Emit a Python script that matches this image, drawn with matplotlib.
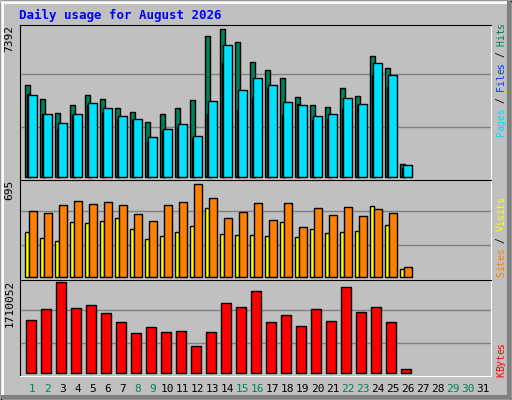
import numpy as np
import matplotlib.pyplot as plt
from matplotlib.patches import Rectangle

# valores diarios (agosto 2026)
days = list(range(1, 32))
hits = [274, 232, 190, 214, 244, 232, 205, 193, 163, 187, 205, 229, 421, 442, 403, 343,
        319, 295, 238, 214, 208, 265, 241, 361, 325, 37]
files = [244, 187, 160, 187, 220, 205, 181, 172, 118, 142, 157, 121, 226, 394, 259, 295,
         274, 223, 214, 181, 187, 235, 217, 340, 304, 34]
pages = [247, 187, 142, 184, 214, 190, 172, 169, 103, 136, 148, 115, 187, 340, 199, 235,
         265, 184, 217, 169, 172, 202, 214, 304, 268, 25]
sites = [196, 190, 214, 226, 217, 223, 214, 187, 166, 214, 223, 278, 235, 175, 193, 220,
         169, 220, 148, 205, 184, 208, 181, 202, 190, 28]
visits = [133, 115, 106, 163, 160, 166, 175, 142, 112, 121, 133, 151, 205, 127, 124, 124,
          121, 163, 118, 142, 130, 133, 136, 211, 154, 22]
kbytes = [160, 193, 274, 196, 205, 181, 154, 121, 139, 124, 127, 82, 124, 211, 199, 247,
          154, 175, 142, 193, 157, 259, 184, 199, 154, 13]
# escalar a las unidades reales
hits = [v * 7392 / 442 for v in hits]
files = [v * 7392 / 442 for v in files]
pages = [v * 7392 / 442 for v in pages]
sites = [v * 695 / 278 for v in sites]
visits = [v * 695 / 278 for v in visits]
kbytes = [v * 1710052 / 274 for v in kbytes]
weekend = [1, 2, 8, 9, 15, 16, 22, 23, 29, 30]

W, H = 512, 400
fig = plt.figure(figsize=(W / 100, H / 100), dpi=100, facecolor='#c0c0c0')
mono = 'DejaVu Sans Mono'

def px_axes(x0, y0, x1, y1):
    return fig.add_axes([x0 / W, 1 - y1 / H, (x1 - x0) / W, (y1 - y0) / H])

# marco exterior
bg = fig.add_axes([0, 0, 1, 1])
bg.set_xlim(0, W); bg.set_ylim(H, 0); bg.axis('off')
bg.add_patch(Rectangle((0.5, 0.5), W - 1, H - 1, fill=False, ec='black', lw=1))
bg.plot([2, W - 3], [2, 2], color='white', lw=2)
bg.plot([2, 2], [2, H - 3], color='white', lw=2)
bg.plot([3, W - 3], [H - 3, H - 3], color='#808080', lw=3)
bg.plot([W - 3, W - 3], [3, H - 3], color='#808080', lw=3)

xl = (1 - 11 / 15, 1 - 11 / 15 + 471 / 15)

def setup(ax, ymax, frac_base, label):
    ax.set_facecolor('#c0c0c0')
    ax.set_xlim(*xl)
    ax.set_ylim(-ymax * frac_base, ymax * 1.0)
    for g in (0.33, 0.68):
        ax.axhline(ymax * g, color='#808080', lw=1, zorder=0)
    ax.set_xticks([]); ax.set_yticks([])
    for s in ax.spines.values():
        s.set_color('black')
    ax.spines['bottom'].set_color('white')
    ax.spines['right'].set_color('white')
    ax.text(-0.012, 1.0, label, transform=ax.transAxes, rotation=90, ha='right', va='top',
            fontsize=8, family=mono)

n = len(hits)
x = np.arange(1, n + 1)
kw = dict(edgecolor='black', linewidth=1, align='edge')

# panel superior
ax1 = px_axes(20, 25, 491, 180)
m1 = 7392 * 455 / 442
setup(ax1, m1, 10 / 455, '7392')
ax1.bar(x - 0.4, hits, width=0.33, color='#00805c', **kw)
ax1.bar(x - 0.27, pages, width=0.15, color='#0040ff', **kw)
ax1.bar(x - 0.18, files, width=0.56, color='#00e0ff', **kw)

# panel medio
ax2 = px_axes(20, 180, 491, 280)
m2 = 695 * 290 / 278
setup(ax2, m2, 10 / 290, '695')
ax2.bar(x - 0.38, visits, width=0.27, color='#ffff00', **kw)
ax2.bar(x - 0.13, sites, width=0.5, color='#ff8000', **kw)

# panel inferior
ax3 = px_axes(20, 280, 491, 376)
m3 = 1710052 * 280 / 274
setup(ax3, m3, 8 / 280, '1710052')
ax3.bar(x - 0.35, kbytes, width=0.68, color='#ff0000', **kw)

# etiquetas de dias
for d in days:
    xp = 20 + (d - xl[0]) * 15 + 1.5
    bg.text(xp, 389, str(d), ha='center', va='center', fontsize=8, family=mono,
            color='#00805c' if d in weekend else 'black')

fig.text(19 / W, 1 - 15 / H, 'Daily usage for August 2026', color='#0000ff',
         fontsize=9, family=mono, weight='bold', va='center')

# leyendas verticales a la derecha, caracter por caracter
def vlabel(y_bottom, parts, step=5.7):
    y = y_bottom
    for t, c in parts:
        for ch in t:
            if ch != ' ':
                bg.text(501, y - step / 2, ch, rotation=90, ha='center', va='center',
                        fontsize=7, family=mono, color=c)
            y -= step

vlabel(137, [('Pages', '#00e0ff'), (' / ', 'black'), ('Files', '#0040ff'),
             (' / ', 'black'), ('Hits', '#00805c')])
vlabel(277, [('Sites', '#ff8000'), (' / ', 'black'), ('Visits', '#ffff00')])
vlabel(377, [('KBytes', '#ff0000')])

fig.savefig('out.png', dpi=100, facecolor='#c0c0c0')
